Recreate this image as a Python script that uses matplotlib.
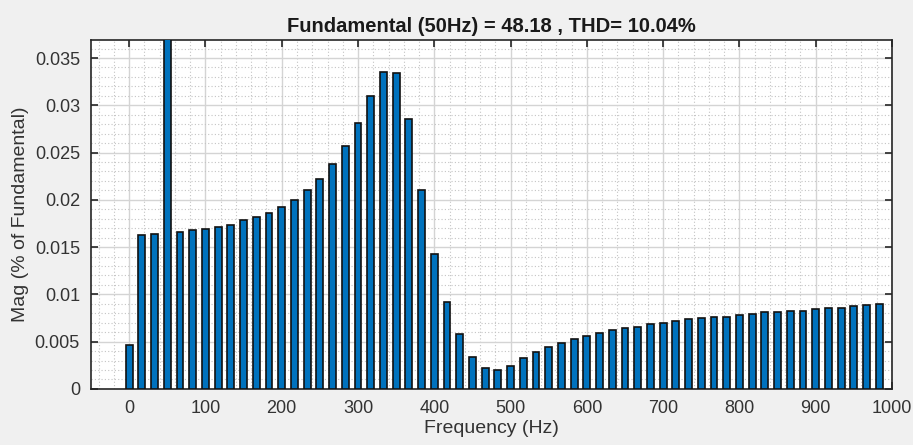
import numpy as np
import matplotlib.pyplot as plt
from matplotlib.ticker import MultipleLocator

# harmonic spectrum, bins every 50/3 Hz
freq_step = 50 / 3
n_bins = 60
mag = [
    0.00465, 0.01627, 0.01637, 100.0, 0.01662, 0.0168, 0.01694, 0.01708,
    0.01736, 0.01785, 0.01817, 0.01866, 0.01926, 0.02003, 0.02099, 0.02222,
    0.0238, 0.0257, 0.02817, 0.03102, 0.03356, 0.03342, 0.02856, 0.02099,
    0.01423, 0.00923, 0.00577, 0.00342, 0.00218, 0.00201, 0.00246, 0.00327,
    0.00391, 0.0044, 0.00486, 0.00532, 0.00563, 0.00595, 0.00623, 0.00641,
    0.00658, 0.00687, 0.00701, 0.00718, 0.00736, 0.00746, 0.00764, 0.00764,
    0.00782, 0.00796, 0.0081, 0.0081, 0.00824, 0.00828, 0.00842, 0.00852,
    0.0086, 0.00877, 0.00891, 0.00901,
]
freqs = np.arange(n_bins) * freq_step

title = 'Fundamental (50Hz) = 48.18 , THD= 10.04%'
ytick_vals = [0, 0.005, 0.01, 0.015, 0.02, 0.025, 0.03, 0.035]
ytick_labels = ['0', '0.005', '0.01', '0.015', '0.02', '0.025', '0.03', '0.035']

plt.rcParams['font.family'] = ['Liberation Sans', 'DejaVu Sans']

fig = plt.figure(figsize=(9.13, 4.45), dpi=100, facecolor='#f0f0f0')
ax = fig.add_axes([0.0997, 0.126, 0.8773, 0.784])

ax.bar(freqs, mag, width=9, color='#0072BD', edgecolor='#111111', linewidth=1.2, zorder=3)

ax.set_xlim(-50, 1000)
ax.set_ylim(0, 0.0369)
ax.xaxis.set_major_locator(MultipleLocator(100))
ax.xaxis.set_minor_locator(MultipleLocator(20))
ax.yaxis.set_minor_locator(MultipleLocator(0.001))
ax.set_yticks(ytick_vals)
ax.set_yticklabels(ytick_labels)

ax.grid(which='major', color='#d4d4d4', linewidth=1.0, zorder=0)
ax.grid(which='minor', color='#c4c4c4', linewidth=0.8, linestyle=(0, (1, 2)), zorder=0)
ax.set_axisbelow(True)

ax.tick_params(which='major', direction='in', length=5, width=1.2, top=True, right=True,
               labelsize=13, colors='#262626', labelcolor='#333333')
ax.tick_params(axis='y', which='major', pad=8)
ax.tick_params(axis='x', which='major', pad=8)
ax.tick_params(which='minor', length=0, top=True, right=True)
for s in ax.spines.values():
    s.set_color('#262626')
    s.set_linewidth(1.2)

ax.set_xlabel('Frequency (Hz)', fontsize=14, color='#333333', labelpad=2)
ax.set_ylabel('Mag (% of Fundamental)', fontsize=14, color='#333333', labelpad=4)
ax.set_title(title, fontsize=14.5, fontweight='bold', color='#1a1a1a', pad=6)

fig.savefig('out.png', dpi=100, facecolor=fig.get_facecolor())
